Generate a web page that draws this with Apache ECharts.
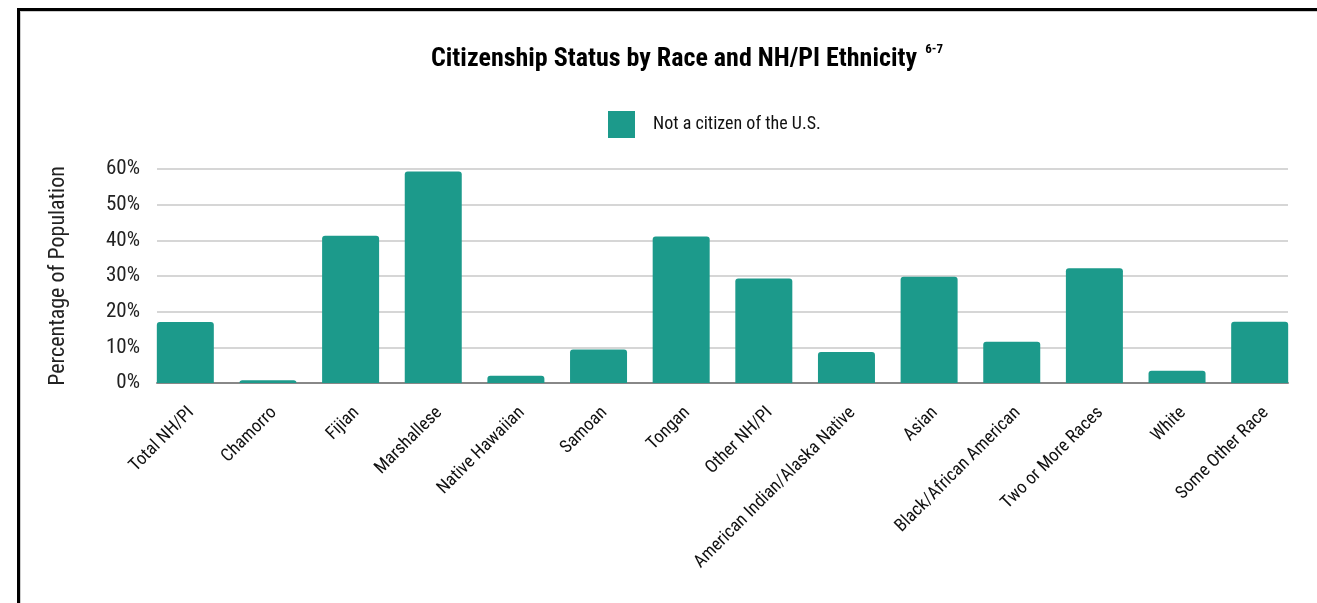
<!DOCTYPE html>
<html>
<head>
<meta charset="utf-8">
<script src="https://cdn.jsdelivr.net/npm/echarts@6/dist/echarts.min.js"></script>
<style>
  html, body { margin: 0; padding: 0; background: #fff; }
  #wrap { position: relative; width: 1317px; height: 603px; overflow: hidden; }
  #chart { position: absolute; left: 0; top: 0; width: 1317px; height: 603px; }
  #frame {
    position: absolute; left: 17px; top: 8px; width: 1400px; height: 700px;
    border-top: 3px solid #000; border-left: 3px solid #000;
    box-shadow: inset 1px 1px 0 #ccc; pointer-events: none;
  }
</style>
</head>
<body>
<div id="wrap">
  <div id="chart"></div>
  <div id="frame"></div>
</div>
<script>
// values (percent)
const categories = [
  'Total NH/PI', 'Chamorro', 'Fijian', 'Marshallese', 'Native Hawaiian',
  'Samoan', 'Tongan', 'Other NH/PI', 'American Indian/Alaska Native', 'Asian',
  'Black/African American', 'Two or More Races', 'White', 'Some Other Race'
]
const notCitizen = [17.1, 0.8, 41.3, 59.3, 2.0, 9.4, 41.1, 29.3, 8.7, 29.8, 11.6, 32.2, 3.4, 17.2]
const yTicks = [0, 10, 20, 30, 40, 50, 60]

const font = "'Liberation Sans Narrow', 'Roboto Condensed', 'Arial Narrow', sans-serif"
const teal = '#1c9a8b'

const chart = echarts.init(document.getElementById('chart'))
chart.setOption({
  backgroundColor: '#fff',
  animation: false,
  textStyle: { fontFamily: font },
  title: {
    left: 426,
    top: 38,
    text: '{t|Citizenship Status by Race and NH/PI Ethnicity}  {s|6-7}',
    textStyle: {
      rich: {
        t: { fontFamily: font, fontWeight: 'bold', fontSize: 26, color: '#000', lineHeight: 32 },
        s: { fontFamily: font, fontWeight: 'bold', fontSize: 13, color: '#000', verticalAlign: 'top', padding: [0, 0, 14, 0] },
      },
    },
  },
  legend: {
    left: 603,
    top: 106,
    icon: 'rect',
    itemWidth: 27,
    itemHeight: 27,
    data: ['Not a citizen of the U.S.'],
    textStyle: {
      fontFamily: font,
      fontSize: 18,
      color: '#111',
      padding: [0, 0, 0, 13],
    },
  },
  // grid 0: gridlines + axis line, grid 1: bars flush to the plot edges, grid 2: category labels
  grid: [
    { left: 157, right: 29, top: 169, bottom: 220 },
    { left: 144, right: 16, top: 169, bottom: 220 },
    { left: 150, right: 10, top: 169, bottom: 220 },
  ],
  xAxis: [
    {
      type: 'category',
      gridIndex: 0,
      data: categories,
      axisTick: { show: false },
      axisLabel: { show: false },
      axisLine: { lineStyle: { color: '#888', width: 2 } },
    },
    {
      type: 'category',
      gridIndex: 1,
      data: categories,
      axisTick: { show: false },
      axisLine: { show: false },
      axisLabel: { show: false },
    },
    {
      type: 'category',
      gridIndex: 2,
      data: categories,
      axisTick: { show: false },
      axisLine: { show: false },
      axisLabel: {
        interval: 0,
        rotate: 45,
        margin: 27,
        fontFamily: font,
        fontSize: 18,
        color: '#111',
      },
    },
  ],
  yAxis: [
    {
      type: 'value',
      gridIndex: 0,
      min: yTicks[0],
      max: yTicks[yTicks.length - 1],
      interval: 10,
      name: 'Percentage of Population',
      nameLocation: 'middle',
      nameGap: 88,
      nameTextStyle: { fontFamily: font, fontSize: 22, color: '#222' },
      axisLine: { show: false },
      axisTick: { show: false },
      axisLabel: {
        margin: 17,
        fontFamily: font,
        fontSize: 21,
        color: '#222',
        formatter: (v) => v + '%',
      },
      splitLine: { lineStyle: { color: '#c8c8c8', width: 1.5 } },
    },
    {
      type: 'value',
      gridIndex: 1,
      min: yTicks[0],
      max: yTicks[yTicks.length - 1],
      interval: 10,
      show: false,
      splitLine: { show: false },
    },
    {
      type: 'value',
      gridIndex: 2,
      min: yTicks[0],
      max: yTicks[yTicks.length - 1],
      interval: 10,
      show: false,
      splitLine: { show: false },
    },
  ],
  series: [
    {
      name: 'Not a citizen of the U.S.',
      type: 'bar',
      xAxisIndex: 1,
      yAxisIndex: 1,
      barWidth: 57,
      itemStyle: { color: teal, borderRadius: [3, 3, 0, 0] },
      data: notCitizen,
    },
  ],
})
</script>
</body>
</html>
